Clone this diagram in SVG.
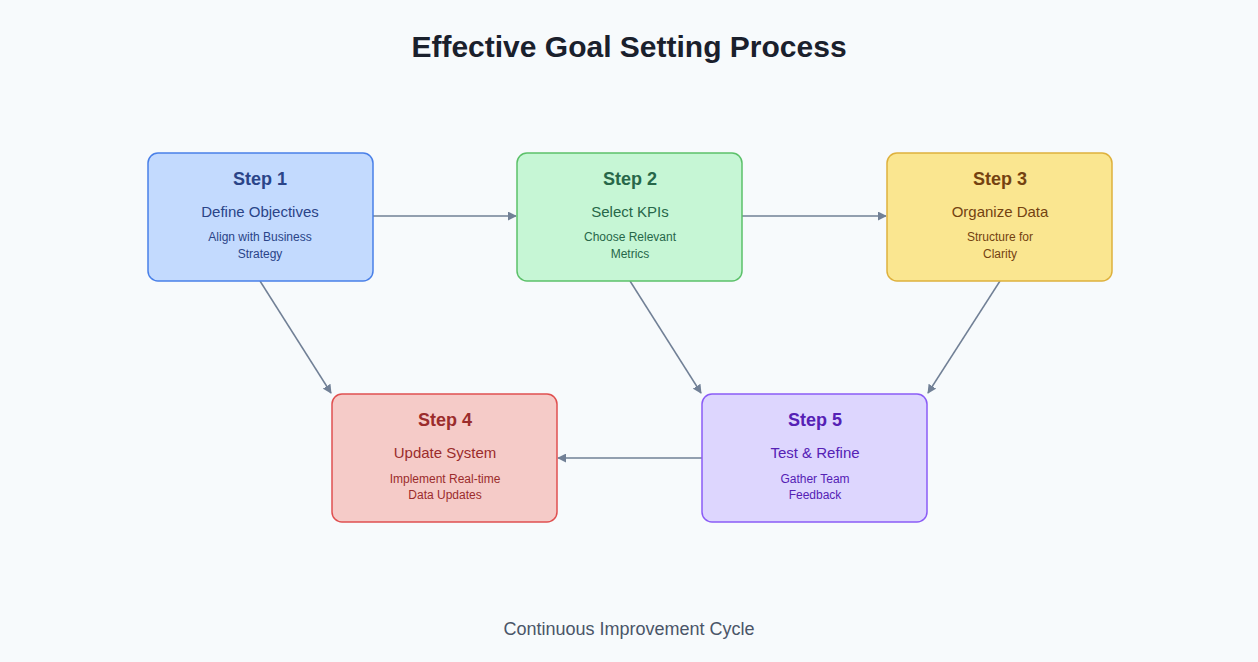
<svg xmlns="http://www.w3.org/2000/svg" width="1258" height="662" viewBox="0 0 1258 662">
<style>
text{font-family:"Liberation Sans",Arial,sans-serif;text-anchor:middle}
.t{font-size:18px;font-weight:bold}
.s{font-size:15px}
.d{font-size:12px}
.c{stroke:#718096;stroke-width:1.5;fill:none;marker-end:url(#a)}
</style>
<defs><marker id="a" viewBox="0 0 10 10" refX="9" refY="5" markerWidth="9" markerHeight="9" markerUnits="userSpaceOnUse" orient="auto"><path d="M0,0L10,5L0,10z" fill="#718096"/></marker>
<marker id="b" viewBox="0 0 10 10" refX="9" refY="5" markerWidth="12" markerHeight="12" markerUnits="userSpaceOnUse" orient="auto"><path d="M0,0L10,5L0,10z" fill="#718096"/></marker></defs>
<rect width="1258" height="662" fill="#f7fafc"/>
<text x="629" y="57" style="font-size:30px;font-weight:bold" fill="#1a202c">Effective Goal Setting Process</text>
<g id="connectors">
<line class="c" x1="373" y1="216" x2="516" y2="216" marker-end="url(#b)"/>
<line class="c" x1="742" y1="216" x2="886" y2="216" marker-end="url(#b)"/>
<line class="c" x1="260" y1="281" x2="331" y2="393" marker-end="url(#b)"/>
<line class="c" x1="630" y1="281" x2="701" y2="393" marker-end="url(#b)"/>
<line class="c" x1="1000" y1="281" x2="928" y2="393" marker-end="url(#b)"/>
<line class="c" x1="702" y1="458" x2="558" y2="458" marker-end="url(#b)"/>
</g>
<g id="step1"><rect x="148" y="153" width="225" height="128" rx="10" fill="#c3dafe" stroke="#4a80e8" stroke-width="1.5"/>
<g fill="#2a4488"><text class="t" x="260" y="185">Step 1</text><text class="s" x="260" y="217">Define Objectives</text><text class="d" x="260" y="241">Align with Business</text><text class="d" x="260" y="258">Strategy</text></g></g>
<g id="step2"><rect x="517" y="153" width="225" height="128" rx="10" fill="#c6f6d5" stroke="#5cc16a" stroke-width="1.5"/>
<g fill="#276749"><text class="t" x="630" y="185">Step 2</text><text class="s" x="630" y="217">Select KPIs</text><text class="d" x="630" y="241">Choose Relevant</text><text class="d" x="630" y="258">Metrics</text></g></g>
<g id="step3"><rect x="887" y="153" width="225" height="128" rx="10" fill="#fae690" stroke="#deb13d" stroke-width="1.5"/>
<g fill="#744210"><text class="t" x="1000" y="185">Step 3</text><text class="s" x="1000" y="217">Organize Data</text><text class="d" x="1000" y="241">Structure for</text><text class="d" x="1000" y="258">Clarity</text></g></g>
<g id="step4"><rect x="332" y="394" width="225" height="128" rx="10" fill="#f5cbc8" stroke="#e05050" stroke-width="1.5"/>
<g fill="#9b2c2c"><text class="t" x="445" y="426">Step 4</text><text class="s" x="445" y="458">Update System</text><text class="d" x="445" y="483">Implement Real-time</text><text class="d" x="445" y="499">Data Updates</text></g></g>
<g id="step5"><rect x="702" y="394" width="225" height="128" rx="10" fill="#ddd6fe" stroke="#8b5cf6" stroke-width="1.5"/>
<g fill="#5521b5"><text class="t" x="815" y="426">Step 5</text><text class="s" x="815" y="458">Test &amp; Refine</text><text class="d" x="815" y="483">Gather Team</text><text class="d" x="815" y="499">Feedback</text></g></g>
<text x="629" y="635" style="font-size:18px" fill="#4a5568">Continuous Improvement Cycle</text>
</svg>
